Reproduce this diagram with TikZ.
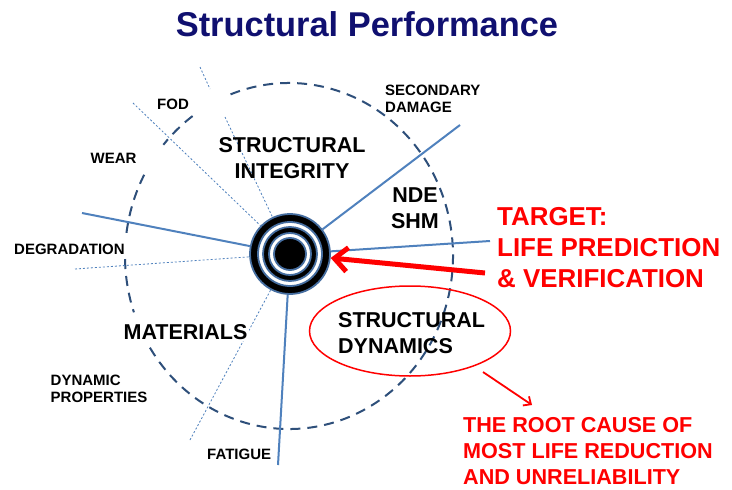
\documentclass[tikz,border=0pt]{standalone}
\usepackage{fontspec}
\setmainfont{Liberation Sans}
\usetikzlibrary{arrows.meta,shapes.geometric}
\definecolor{titleblue}{RGB}{16,16,112}
\definecolor{lineblue}{RGB}{79,129,189}
\definecolor{ringblue}{RGB}{70,110,160}
\definecolor{circblue}{RGB}{46,79,122}
\definecolor{pred}{RGB}{255,0,0}
\tikzset{
  small/.style={font=\bfseries\fontsize{15}{17.7}\selectfont, inner sep=0pt, align=left},
  big/.style={font=\bfseries\fontsize{21.5}{26}\selectfont, inner sep=0pt},
  redbig/.style={font=\bfseries\fontsize{25.9}{31}\selectfont, text=pred, inner sep=0pt, align=left},
  redmid/.style={font=\bfseries\fontsize{21.6}{26}\selectfont, text=pred, inner sep=0pt, align=left},
  solidline/.style={draw=lineblue, line width=2pt},
  dotline/.style={draw=lineblue, line width=0.8pt, dash pattern=on 2pt off 2pt},
  circdash/.style={draw=circblue, line width=2pt, dash pattern=on 10pt off 7pt},
  ring/.style={circle, inner sep=0pt, draw=ringblue, line width=1.8pt},
}
\begin{document}
\begin{tikzpicture}[x=1pt,y=-1pt]
\useasboundingbox (0,0) rectangle (732,490);
\fill[white] (0,0) rectangle (732,490);

% title
\node[font=\bfseries\fontsize{34.4}{40}\selectfont, text=titleblue, anchor=base, inner sep=0pt] (title) at (367,36.7) {Structural Performance};

% dashed circle as arcs
\draw[circdash] (289,256) ++(126:164pt and 173pt) arc[start angle=126, end angle=140, x radius=164pt, y radius=173pt];
\draw[circdash] (289,256) ++(152:164pt and 173pt) arc[start angle=152, end angle=173, x radius=164pt, y radius=173pt];
\draw[circdash] (289,256) ++(181:164pt and 173pt) arc[start angle=181, end angle=199, x radius=164pt, y radius=173pt];
\draw[circdash] (289,256) ++(212:164pt and 173pt) arc[start angle=212, end angle=472, x radius=164pt, y radius=173pt];

% target
\node[ring, minimum size=80pt, fill=black] (tgt) at (290,254) {};
\node[ring, minimum size=64pt, fill=white] (r2) at (tgt.center) {};
\node[ring, minimum size=54pt, fill=black] (r3) at (tgt.center) {};
\node[ring, minimum size=42pt, fill=white] (r4) at (tgt.center) {};
\node[ring, minimum size=32pt, fill=black] (r5) at (tgt.center) {};

% free ends
\coordinate (eDeg) at (82,213);
\coordinate (eSec) at (460,125);
\coordinate (eTar) at (490,241);
\coordinate (eFat) at (278,465);
\coordinate (eA1) at (200,67);
\coordinate (eA2) at (210,89);
\coordinate (eA3) at (225,117);
\coordinate (eB) at (133,103);
\coordinate (eC) at (75,269);
\coordinate (eD) at (190,440);

% solid lines
\draw[solidline] (tgt) -- (eDeg);
\draw[solidline] (tgt) -- (eSec);
\draw[solidline] (tgt) -- (eTar);
\draw[solidline] (tgt) -- (eFat);

% dotted lines
\draw[dotline] (eA1) -- (eA2);
\draw[dotline] (eA3) -- (tgt);
\draw[dotline] (eB) -- (tgt);
\draw[dotline] (eC) -- (tgt);
\draw[dotline] (eD) -- (tgt);

% labels
\node[big, anchor=north, align=center] (si) at (292,137) {STRUCTURAL\\INTEGRITY};
\node[big, anchor=north, align=center] (nde) at (415,188) {NDE\\SHM};
\node[big, anchor=base, fill=white, inner sep=2pt] (mat) at (185.5,339) {MATERIALS};
\node[big, anchor=north west, align=left] (sd) at (338,312) {STRUCTURAL\\DYNAMICS};

\node[small, anchor=north west] (sec) at (385,84.5) {SECONDARY\\DAMAGE};
\node[small, anchor=base west] (fod) at (157,109.5) {FOD};
\node[small, anchor=base west] (wear) at (90.5,163.5) {WEAR};
\node[small, anchor=base west] (deg) at (14,254.5) {DEGRADATION};
\node[small, anchor=north west] (dyn) at (50.5,374.5) {DYNAMIC\\PROPERTIES};
\node[small, anchor=base west] (fat) at (207,459.5) {FATIGUE};

\node[redbig, anchor=north west] (target) at (497,207) {TARGET:\\LIFE PREDICTION\\\& VERIFICATION};
\node[redmid, anchor=north west] (root) at (463,417) {THE ROOT CAUSE OF\\MOST LIFE REDUCTION\\AND UNRELIABILITY};

% red ellipse
\node[draw=pred, line width=1.5pt, ellipse, minimum width=201pt, minimum height=90pt, inner sep=0pt] (ell) at (410,331) {};

% red arrows
\coordinate (rA) at (485,273);
\draw[draw=pred, line width=5pt, -{Straight Barb[length=13pt, width=24pt]}] (rA) -- (tgt);
\coordinate (sA) at (483,372);
\coordinate (sB) at (532,405);
\draw[draw=pred, line width=1.8pt, -{Straight Barb[length=6pt, width=11pt]}] (sA) -- (sB);
\end{tikzpicture}
\end{document}
